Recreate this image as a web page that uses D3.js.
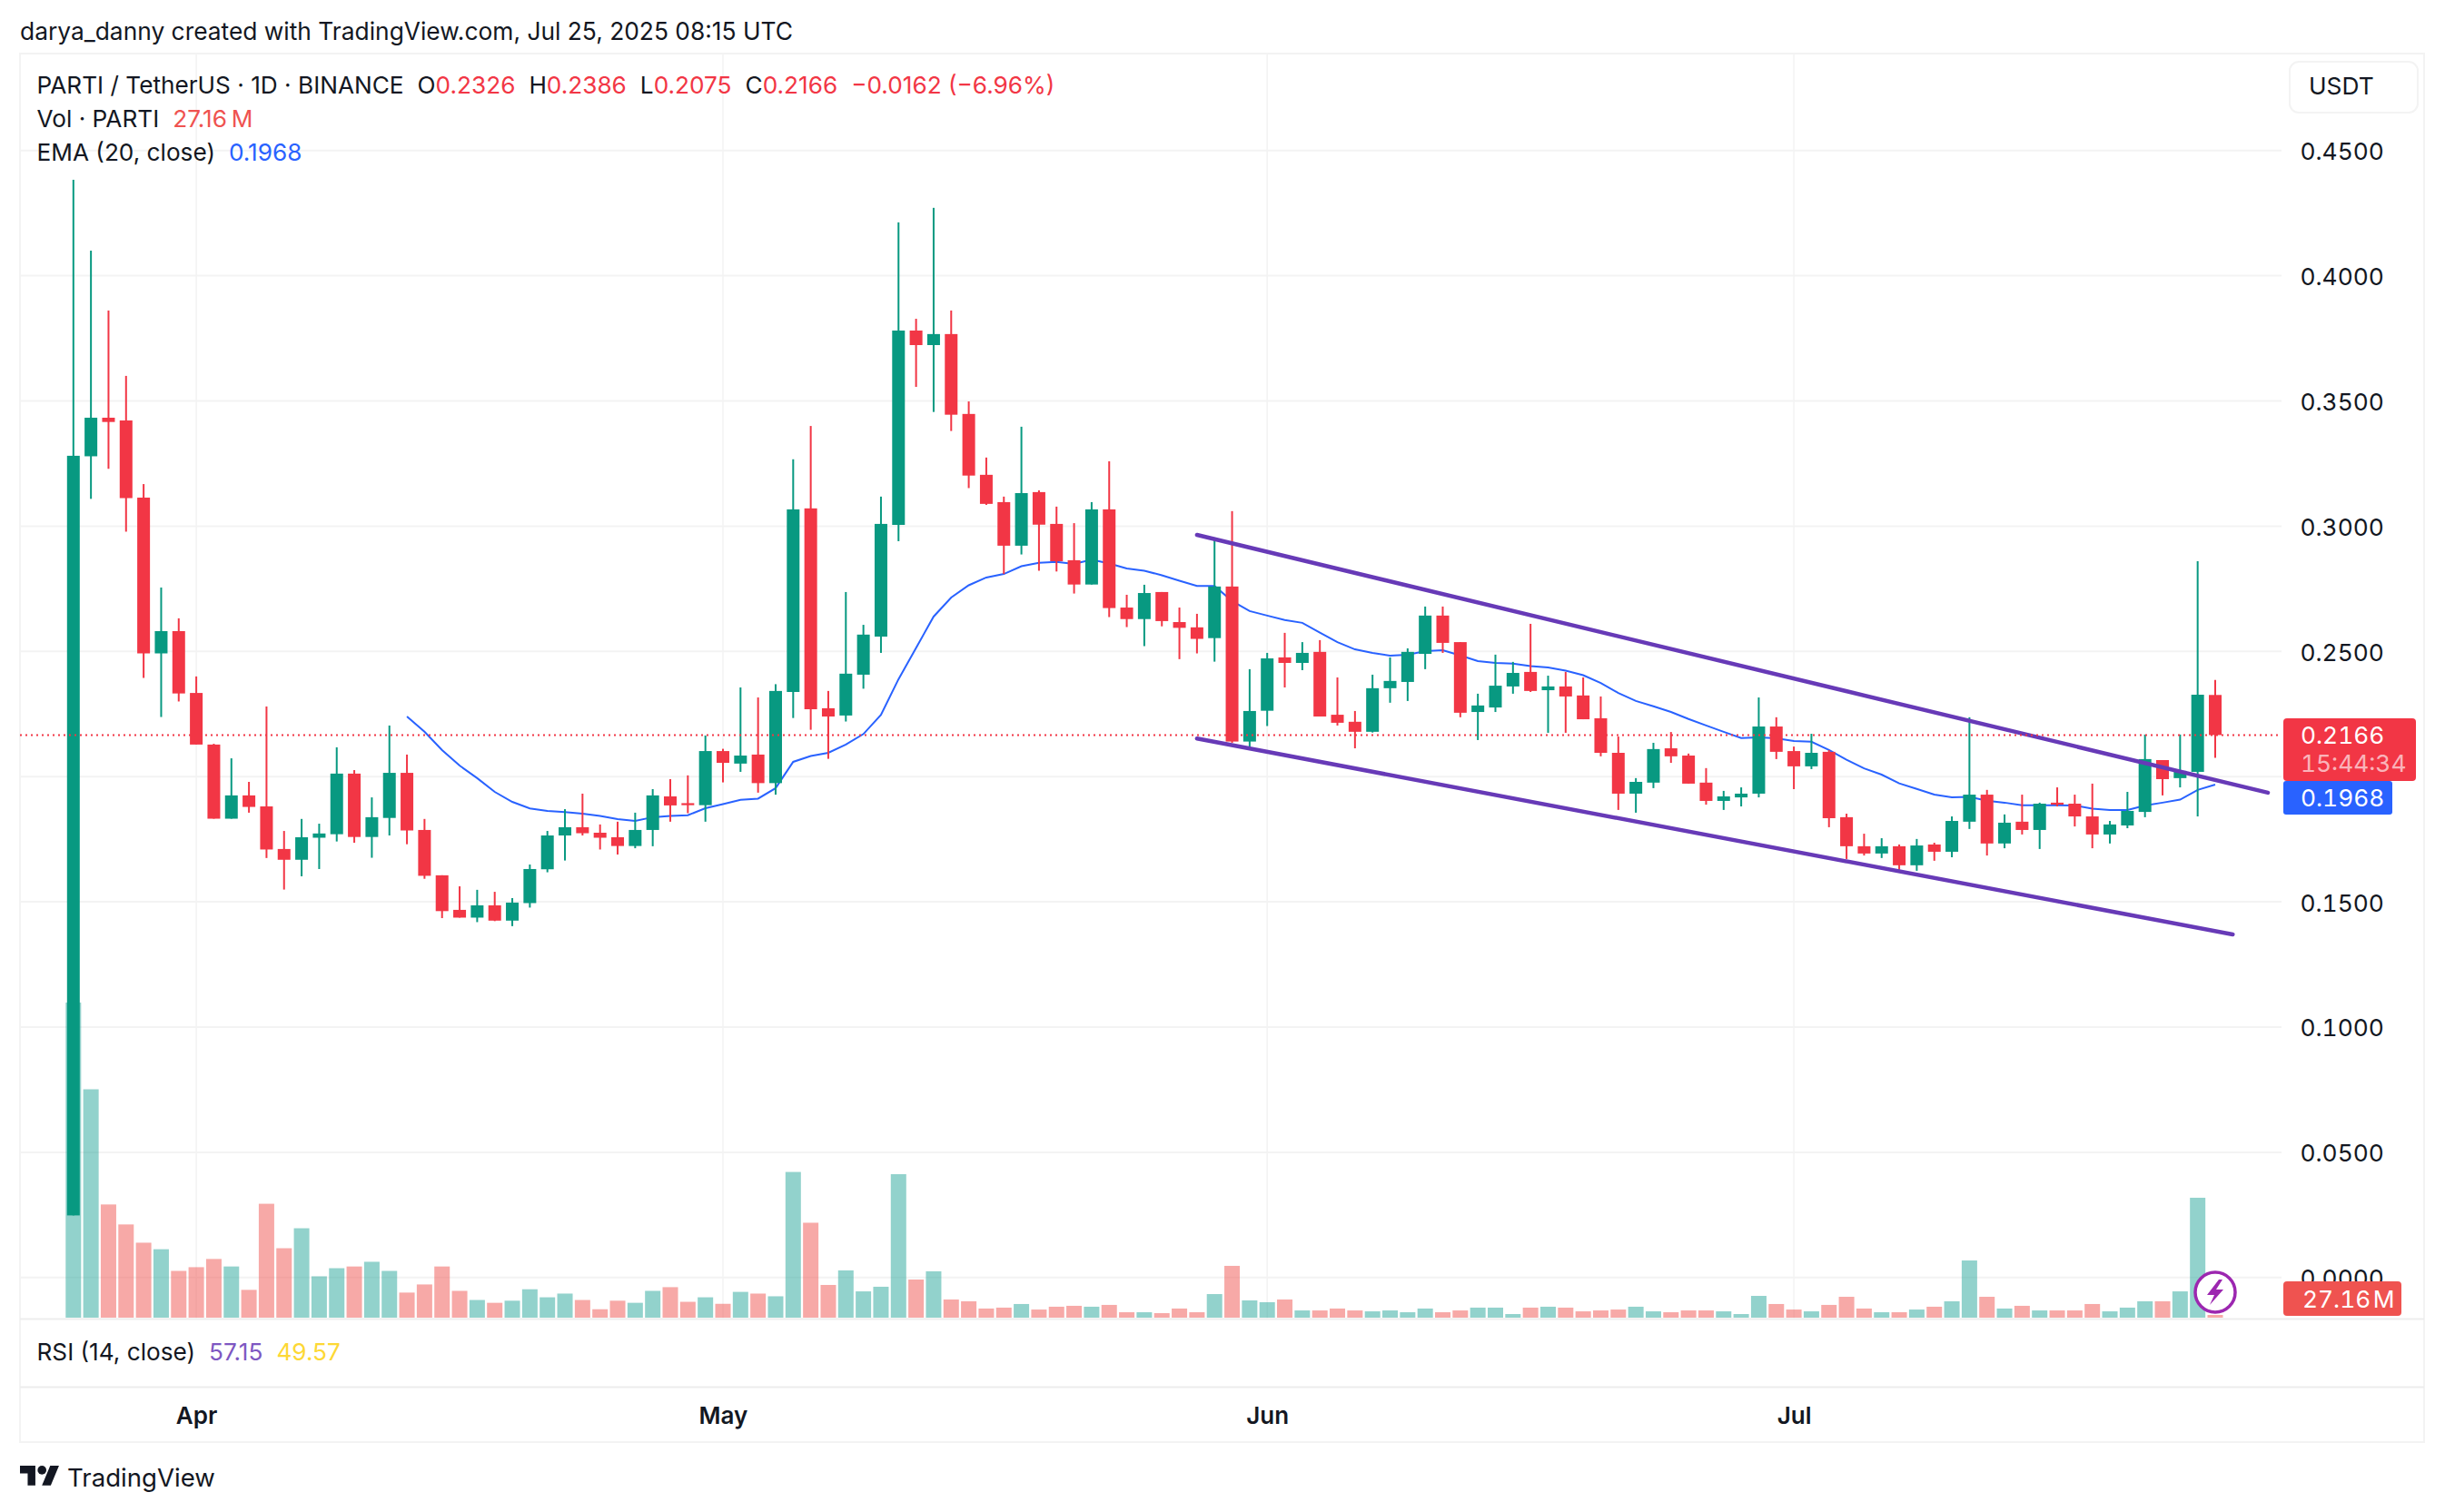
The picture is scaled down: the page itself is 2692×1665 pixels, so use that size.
<!DOCTYPE html>
<meta charset="utf-8">
<html>
    <head>
        <title>PARTI / TetherUS</title>
        <script src="https://d3js.org/d3.v7.min.js"></script>
        <style>
            html, body { margin: 0; padding: 0; background: #fff; }
            svg { display: block; font-family: Inter, sans-serif; }
            text { fill: #131722; }
            .tick text, .tabular { font-variant-numeric: tabular-nums; }
        </style>
    </head>
    <body>
        <div id="chart"></div>
        <script type="text/javascript">
        var firstDay = "2025-03-25";
        var opens = [0.0248,0.3279,0.3433,0.3422,0.3114,0.2492,0.2581,0.2334,0.2128,0.1832,0.1925,0.1881,0.1711,0.1668,0.1756,0.1770,0.2012,0.1759,0.1835,0.2015,0.1787,0.1606,0.1468,0.1437,0.1486,0.1425,0.1495,0.1630,0.1765,0.1798,0.1776,0.1758,0.1723,0.1787,0.1921,0.1894,0.1886,0.2102,0.2052,0.2088,0.1974,0.2338,0.3071,0.2273,0.2244,0.2407,0.2559,0.3005,0.3781,0.3723,0.3767,0.3448,0.3205,0.3096,0.2922,0.3136,0.3009,0.2864,0.2767,0.3067,0.2675,0.2629,0.2737,0.2617,0.2596,0.2553,0.2759,0.2140,0.2263,0.2476,0.2454,0.2498,0.2247,0.2219,0.2179,0.2353,0.2378,0.2490,0.2643,0.2537,0.2258,0.2276,0.2360,0.2418,0.2345,0.2360,0.2324,0.2233,0.2095,0.1932,0.1976,0.2113,0.2084,0.1976,0.1903,0.1917,0.1932,0.2200,0.2102,0.2041,0.2099,0.1838,0.1722,0.1693,0.1722,0.1646,0.1729,0.1700,0.1820,0.1928,0.1733,0.1820,0.1787,0.1896,0.1892,0.1841,0.1769,0.1805,0.1859,0.2066,0.1994,0.2019,0.2326];
        var highs = [0.4383,0.4100,0.3861,0.3600,0.3168,0.2755,0.2632,0.2400,0.2131,0.2073,0.1979,0.2280,0.1783,0.1831,0.1812,0.2117,0.2026,0.1917,0.2204,0.2088,0.1831,0.1606,0.1562,0.1548,0.1540,0.1515,0.1649,0.1783,0.1870,0.1932,0.1809,0.1820,0.1856,0.1950,0.1990,0.2005,0.2164,0.2111,0.2356,0.2316,0.2369,0.3267,0.3400,0.2342,0.2737,0.2606,0.3118,0.4213,0.3828,0.4271,0.3861,0.3498,0.3274,0.3118,0.3397,0.3143,0.3078,0.3012,0.3096,0.3259,0.2726,0.2766,0.2737,0.2675,0.2650,0.2951,0.3060,0.2429,0.2494,0.2574,0.2537,0.2545,0.2396,0.2262,0.2407,0.2476,0.2512,0.2679,0.2679,0.2537,0.2331,0.2487,0.2458,0.2610,0.2403,0.2418,0.2396,0.2320,0.2160,0.1994,0.2135,0.2178,0.2092,0.2034,0.1943,0.1957,0.2316,0.2237,0.2120,0.2171,0.2106,0.1852,0.1772,0.1754,0.1729,0.1751,0.1736,0.1841,0.2237,0.1947,0.1849,0.1928,0.1896,0.1957,0.1928,0.1972,0.1823,0.1939,0.2168,0.2066,0.2168,0.2860,0.2386];
        var lows = [0.0248,0.3109,0.3229,0.2978,0.2394,0.2238,0.2300,0.2128,0.1832,0.1832,0.1856,0.1675,0.1549,0.1602,0.1631,0.1741,0.1736,0.1676,0.1765,0.1730,0.1592,0.1435,0.1437,0.1419,0.1423,0.1403,0.1477,0.1618,0.1665,0.1765,0.1709,0.1689,0.1714,0.1722,0.1820,0.1854,0.1820,0.1977,0.2019,0.1936,0.1928,0.2234,0.2187,0.2071,0.2220,0.2351,0.2494,0.2940,0.3556,0.3456,0.3380,0.3152,0.3085,0.2809,0.2887,0.2822,0.2819,0.2731,0.2767,0.2637,0.2597,0.2521,0.2600,0.2469,0.2492,0.2459,0.2135,0.2115,0.2202,0.2356,0.2425,0.2240,0.2204,0.2113,0.2176,0.2295,0.2302,0.2429,0.2494,0.2237,0.2146,0.2258,0.2331,0.2338,0.2175,0.2175,0.2229,0.2081,0.1867,0.1856,0.1954,0.2055,0.1972,0.1888,0.1867,0.1881,0.1917,0.2070,0.1950,0.2030,0.1798,0.1671,0.1685,0.1675,0.1628,0.1624,0.1664,0.1678,0.1791,0.1685,0.1714,0.1769,0.1711,0.1881,0.1801,0.1714,0.1733,0.1794,0.1838,0.1925,0.1957,0.1841,0.2075];
        var closes = [0.3281,0.3433,0.3416,0.3112,0.2492,0.2581,0.2332,0.2128,0.1832,0.1925,0.1879,0.1709,0.1668,0.1758,0.1773,0.2012,0.1759,0.1838,0.2015,0.1785,0.1604,0.1463,0.1437,0.1486,0.1425,0.1497,0.1631,0.1765,0.1798,0.1774,0.1756,0.1723,0.1787,0.1925,0.1885,0.1886,0.2102,0.2055,0.2084,0.1974,0.2342,0.3067,0.2269,0.2240,0.2411,0.2567,0.3009,0.3781,0.3723,0.3767,0.3445,0.3202,0.3089,0.2922,0.3132,0.3006,0.2860,0.2767,0.3067,0.2673,0.2629,0.2733,0.2621,0.2594,0.2550,0.2759,0.2140,0.2262,0.2472,0.2454,0.2494,0.2240,0.2215,0.2179,0.2353,0.2382,0.2498,0.2643,0.2534,0.2255,0.2284,0.2363,0.2414,0.2342,0.2360,0.2320,0.2229,0.2095,0.1932,0.1979,0.2110,0.2081,0.1972,0.1903,0.1921,0.1932,0.2200,0.2099,0.2041,0.2095,0.1834,0.1722,0.1693,0.1722,0.1646,0.1725,0.1700,0.1823,0.1928,0.1733,0.1816,0.1787,0.1892,0.1888,0.1841,0.1769,0.1809,0.1863,0.2070,0.1990,0.2023,0.2327,0.2166];
        var volumes = [3140,2276,1128,929,747,682,466,503,585,510,277,1135,692,891,412,493,510,557,466,250,331,510,267,176,148,169,283,203,240,176,84,169,148,267,304,158,203,138,257,240,213,1452,946,326,471,262,308,1430,380,462,181,163,91,100,136,81,109,118,109,127,54,54,45,91,54,235,516,172,154,181,72,72,91,72,63,72,54,91,54,72,100,100,36,100,109,100,63,72,81,109,63,54,72,72,63,36,217,136,81,63,127,208,91,54,54,81,109,163,570,208,91,118,72,72,72,136,63,100,163,163,262,1195,27.16];
        var emaFirstIndex = 19;
        var emaValues = [0.2240,0.2179,0.2106,0.2044,0.1994,0.1939,0.1899,0.1873,0.1863,0.1858,0.1852,0.1843,0.1830,0.1823,0.1838,0.1843,0.1846,0.1874,0.1890,0.1907,0.1912,0.1954,0.2059,0.2082,0.2095,0.2128,0.2170,0.2247,0.2389,0.2514,0.2639,0.2715,0.2764,0.2795,0.2809,0.2840,0.2854,0.2857,0.2849,0.2866,0.2851,0.2831,0.2822,0.2804,0.2782,0.2761,0.2761,0.2701,0.2661,0.2643,0.2625,0.2614,0.2575,0.2537,0.2508,0.2494,0.2483,0.2487,0.2501,0.2505,0.2484,0.2461,0.2454,0.2451,0.2441,0.2436,0.2423,0.2405,0.2374,0.2334,0.2302,0.2281,0.2258,0.2230,0.2204,0.2179,0.2154,0.2157,0.2153,0.2142,0.2139,0.2106,0.2067,0.2033,0.2008,0.1973,0.1951,0.1928,0.1917,0.1919,0.1904,0.1896,0.1886,0.1886,0.1886,0.1885,0.1872,0.1867,0.1867,0.1885,0.1896,0.1908,0.1947,0.1968];
        var channelDays = ["2025-05-28", "2025-07-28"];
        var channelUpper = [0.2965, 0.1936];
        var channelLowerDays = ["2025-05-28", "2025-07-26"];
        var channelLower = [0.2152, 0.1370];
        var gridTicks = [0, 0.05, 0.1, 0.15, 0.2, 0.25, 0.3, 0.35, 0.4, 0.45];
        // 0.2000 sits behind the price tags in the reference
        var priceLabels = [0, 0.05, 0.1, 0.15, 0.25, 0.3, 0.35, 0.4, 0.45];
        var monthTicks = ["2025-04-01", "2025-05-01", "2025-06-01", "2025-07-01"];

        var green = "#089981", red = "#f23645", volGreen = "#26a69a", volRed = "#ef5350";
        var blue = "#2962ff", purple = "#673ab7", gridColor = "#f3f3f3", lineColor = "#ededed";
        var axisSize = 26.3, legendSize = 26.2;

        var parseDay = d3.utcParse("%Y-%m-%d");
        var start = parseDay(firstDay);
        var candles = closes.map(function(c, i) {
            return {day: d3.utcDay.offset(start, i), o: opens[i], h: highs[i], l: lows[i], c: c, v: volumes[i]};
        });
        var ema = emaValues.map(function(v, i) {
            return {day: d3.utcDay.offset(start, emaFirstIndex + i), v: v};
        });

        var x = d3.scaleUtc().domain([start, candles[candles.length - 1].day]).range([80.8, 2439]);
        var y = d3.scaleLinear().domain([0, 0.45]).range([1406.8, 165.7]);
        var yVol = d3.scaleLinear().domain([0, 3200]).range([1451, 1097.4]);

        var svg = d3.select("#chart").append("svg")
            .attr("width", 2692).attr("height", 1665);

        // outer frame and panes
        svg.append("rect").attr("x", 22).attr("y", 59).attr("width", 2647).attr("height", 1529)
            .attr("fill", "none").attr("stroke", gridColor).attr("stroke-width", 2);
        [1452.5, 1527.5].forEach(function(py) {
            svg.append("line").attr("x1", 22).attr("x2", 2669).attr("y1", py).attr("y2", py)
                .attr("stroke", lineColor).attr("stroke-width", 2);
        });

        // grid
        svg.append("g").selectAll("line").data(gridTicks).enter().append("line")
            .attr("x1", 22).attr("x2", 2512)
            .attr("y1", function(d) { return y(d); }).attr("y2", function(d) { return y(d); })
            .attr("stroke", gridColor).attr("stroke-width", 2);
        svg.append("g").selectAll("line").data(monthTicks).enter().append("line")
            .attr("x1", function(d) { return x(parseDay(d)); }).attr("x2", function(d) { return x(parseDay(d)); })
            .attr("y1", 59).attr("y2", 1452)
            .attr("stroke", gridColor).attr("stroke-width", 1.5);

        // axes
        var priceAxis = d3.axisRight(y).tickValues(priceLabels).tickFormat(d3.format(".4f")).tickSize(0).tickPadding(0);
        var gp = svg.append("g").attr("transform", "translate(2532.5,1.5)").call(priceAxis);
        gp.select(".domain").remove();
        gp.selectAll("text").style("font-size", axisSize + "px").style("font-family", "Inter, sans-serif").attr("fill", "#131722");

        var timeAxis = d3.axisBottom(x).tickValues(monthTicks.map(parseDay)).tickFormat(d3.utcFormat("%b")).tickSize(0).tickPadding(0);
        var gt = svg.append("g").attr("transform", "translate(0,1550)").call(timeAxis);
        gt.select(".domain").remove();
        gt.selectAll("text").style("font-size", "26px").style("font-weight", 600).style("font-family", "Inter, sans-serif").attr("fill", "#131722");

        // volume
        svg.append("g").attr("fill-opacity", 0.5).selectAll("rect").data(candles).enter().append("rect")
            .attr("x", function(d) { return x(d.day) - 8.5; })
            .attr("width", 17)
            .attr("y", function(d) { return yVol(d.v); })
            .attr("height", function(d) { return yVol(0) - yVol(d.v); })
            .attr("fill", function(d) { return d.c >= d.o ? volGreen : volRed; });

        // ema
        var emaLine = d3.line().x(function(d) { return x(d.day); }).y(function(d) { return y(d.v); });
        svg.append("path").datum(ema).attr("d", emaLine)
            .attr("fill", "none").attr("stroke", blue).attr("stroke-width", 2);

        // candles
        var gc = svg.append("g").selectAll("g").data(candles).enter().append("g")
            .attr("fill", function(d) { return d.c >= d.o ? green : red; });
        gc.append("rect")
            .attr("x", function(d) { return x(d.day) - 1; }).attr("width", 2)
            .attr("y", function(d) { return y(d.h); })
            .attr("height", function(d) { return y(d.l) - y(d.h); });
        gc.append("rect")
            .attr("x", function(d) { return x(d.day) - 7; }).attr("width", 14)
            .attr("y", function(d) { return y(Math.max(d.o, d.c)); })
            .attr("height", function(d) { return Math.max(2, Math.abs(y(d.o) - y(d.c))); });

        // channel drawn on the chart
        function trend(days, prices) {
            svg.append("line")
                .attr("x1", x(parseDay(days[0]))).attr("y1", y(prices[0]))
                .attr("x2", x(parseDay(days[1]))).attr("y2", y(prices[1]))
                .attr("stroke", purple).attr("stroke-width", 4.5).attr("stroke-linecap", "round");
        }
        trend(channelDays, channelUpper);
        trend(channelLowerDays, channelLower);

        // last price line
        var lastClose = closes[closes.length - 1];
        svg.append("line").attr("x1", 22).attr("x2", 2512).attr("y1", y(lastClose)).attr("y2", y(lastClose))
            .attr("stroke", red).attr("stroke-width", 2).attr("stroke-dasharray", "2 4");

        // axis tags
        function tag(px, py, w, h, color, r) {
            svg.append("rect").attr("x", px).attr("y", py).attr("width", w).attr("height", h)
                .attr("fill", color).attr("rx", r);
        }
        function label(px, py, s, size, color, opacity) {
            return svg.append("text").attr("class", "tabular").attr("x", px).attr("y", py).attr("dy", "0.36em")
                .style("font-size", size + "px").style("fill", color).style("fill-opacity", opacity || 1).text(s);
        }
        tag(2514, 791, 146, 69, red, 4);
        tag(2514, 860, 120, 37, blue, 3);
        tag(2514, 1411, 130, 38, volRed, 4);
        label(2533, 809.5, "0.2166", axisSize, "#fff");
        label(2533, 841, "15:44:34", axisSize, "#fff", 0.65);
        label(2533, 878.5, "0.1968", axisSize, "#fff");
        label(2535, 1431, "27.16\u200aM", axisSize, "#fff");

        // currency button
        svg.append("rect").attr("x", 2521).attr("y", 68).attr("width", 141).attr("height", 56).attr("rx", 10)
            .attr("fill", "#fff").attr("stroke", gridColor).attr("stroke-width", 2);
        label(2542, 95, "USDT", axisSize, "#131722");

        // lightning marker
        var marker = svg.append("g").attr("transform", "translate(" + x(candles[122].day) + ",1423)");
        marker.append("circle").attr("r", 23).attr("fill", "#fff");
        marker.append("circle").attr("r", 22).attr("fill", "#fff").attr("stroke", "#9c27b0").attr("stroke-width", 3.5);
        marker.append("path").attr("d", "M4 -14 L-9 3 L-1 3 L-6 14 L9 -3 L1 -3 L8 -14 Z").attr("fill", "#9c27b0");

        // legend
        function legend(py, parts) {
            var t = svg.append("text").attr("x", 40.5).attr("y", py).attr("dy", "0.36em").style("font-size", legendSize + "px");
            parts.forEach(function(p) {
                var s = t.append("tspan").text(p[0]).style("fill", p[1]);
                if (p[2]) s.attr("dx", p[2]);
            });
        }
        var ink = "#131722";
        svg.append("text").attr("x", 22).attr("y", 35).attr("dy", "0.36em")
            .style("font-size", "26.35px")
            .text("darya_danny created with TradingView.com, Jul 25, 2025 08:15 UTC");
        legend(94, [["PARTI / TetherUS \u00b7 1D \u00b7 BINANCE", ink], ["O", ink, 15], ["0.2326", red],
            ["H", ink, 15], ["0.2386", red], ["L", ink, 15], ["0.2075", red], ["C", ink, 15], ["0.2166", red],
            ["\u22120.0162 (\u22126.96%)", red, 15]]);
        legend(131, [["Vol \u00b7 PARTI", ink], ["27.16\u202fM", volRed, 15]]);
        legend(168, [["EMA (20, close)", ink], ["0.1968", blue, 15]]);
        legend(1488.5, [["RSI (14, close)", ink], ["57.15", "#7e57c2", 15], ["49.57", "#fdd835", 15]]);

        // logo
        var logo = svg.append("g").attr("transform", "translate(22,1609.2) scale(1.21)").attr("fill", "#131722");
        logo.append("path").attr("d", "M14 22H7V11H0V4h14v18zM28 22h-8l7.5-18h8L28 22z");
        logo.append("circle").attr("cx", 20).attr("cy", 8).attr("r", 4);
        label(74, 1627, "TradingView", 27.6, "#131722");
        </script>
    </body>
</html>
